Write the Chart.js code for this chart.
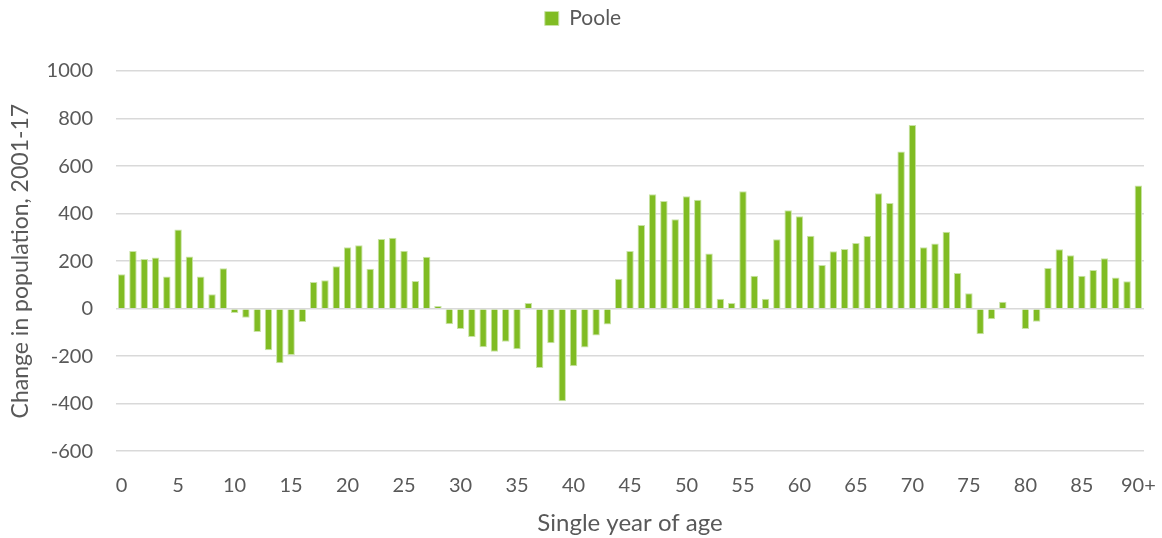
<!DOCTYPE html>
<html>
<head>
<meta charset="utf-8">
<script src="https://cdn.jsdelivr.net/npm/chart.js"></script>
<style>
	body { margin: 0; background: #ffffff; }
	#wrap { width: 1162px; height: 538px; position: relative; }
</style>
</head>
<body>
<div id="wrap"><canvas id="chart"></canvas></div>
<script>
// Single year of age, 0 .. 90+
const ages = [];
for (let i = 0; i < 90; i++) ages.push(String(i));
ages.push('90+');

// Change in population 2001-17
const poole = [
	145, 243, 209, 215, 135, 333, 219, 135, 60, 170,
	-18, -38, -98, -175, -230, -195, -56, 112, 119, 178,
	258, 267, 168, 293, 298, 244, 116, 218, 11, -66,
	-86, -119, -163, -181, -139, -171, 24, -250, -146, -390,
	-243, -164, -113, -67, 126, 243, 352, 481, 453, 376,
	473, 458, 232, 42, 24, 494, 138, 42, 292, 414,
	389, 307, 184, 241, 251, 276, 306, 486, 445, 661,
	773, 258, 274, 323, 150, 65, -108, -45, 29, 0,
	-86, -55, 171, 250, 225, 138, 163, 212, 131, 115,
	518
];

const yTicks = [-600, -400, -200, 0, 200, 400, 600, 800, 1000];

const textColor = '#595959';
const fontFamily = 'Lato, "Open Sans", sans-serif';

// push the plot down below the legend, like the original
const legendGap = {
	id: 'legendGap',
	beforeInit(chart) {
		const fit = chart.legend.fit;
		chart.legend.fit = function() {
			fit.bind(chart.legend)();
			this.height += 32;
		};
	}
};

new Chart(document.getElementById('chart').getContext('2d'), {
	type: 'bar',
	data: {
		labels: ages,
		datasets: [{
			label: 'Poole',
			data: poole,
			backgroundColor: '#80BC23',
			borderColor: '#C9E3A6',
			borderWidth: 1,
			barPercentage: 0.66,
			categoryPercentage: 1
		}]
	},
	options: {
		responsive: true,
		maintainAspectRatio: false,
		animation: false,
		layout: {
			padding: { left: 4, right: 0, top: 0, bottom: 0 }
		},
		plugins: {
			legend: {
				display: true,
				position: 'top',
				labels: {
					boxWidth: 14,
					boxHeight: 14,
					color: textColor,
					font: { family: fontFamily, size: 21 },
					padding: 8
				}
			},
			tooltip: { enabled: false }
		},
		scales: {
			x: {
				afterFit: function(axis) {
					axis.paddingRight = 18;
				},
				grid: { display: false },
				border: { display: false },
				ticks: {
					autoSkip: false,
					maxRotation: 0,
					minRotation: 0,
					color: textColor,
					font: { family: fontFamily, size: 20 },
					padding: 14,
					callback: function(val, i) {
						return i % 5 === 0 ? ages[i] : '';
					}
				},
				title: {
					display: true,
					text: 'Single year of age',
					color: textColor,
					font: { family: fontFamily, size: 24 },
					padding: { top: -2, bottom: 0 }
				}
			},
			y: {
				min: yTicks[0],
				max: yTicks[yTicks.length - 1],
				afterBuildTicks: function(axis) {
					axis.ticks = yTicks.map(v => ({ value: v }));
				},
				afterFit: function(axis) {
					axis.width = 112;
				},
				grid: { color: '#D9D9D9', lineWidth: 1.5, drawTicks: false },
				border: { display: false },
				ticks: {
					color: textColor,
					font: { family: fontFamily, size: 20 },
					padding: 23,
					callback: function(val) { return String(val); }
				},
				title: {
					display: true,
					text: 'Change in population, 2001-17',
					color: textColor,
					font: { family: fontFamily, size: 23 },
					padding: { top: 3, bottom: 0 }
				}
			}
		}
	},
	plugins: [legendGap]
});
</script>
</body>
</html>
